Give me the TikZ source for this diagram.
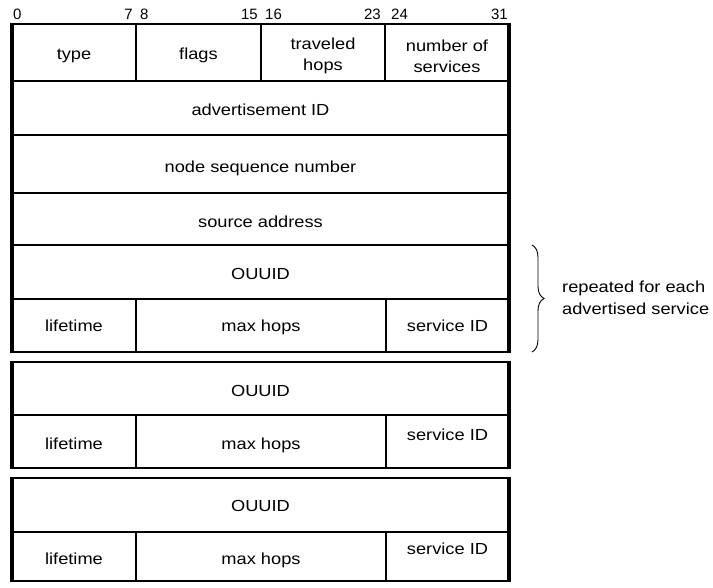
\documentclass[tikz,border=0pt]{standalone}
\usepackage{fontspec}
\setmainfont{Liberation Sans}
\newfontfamily\widesans[FakeStretch=1.14]{Liberation Sans}
\usetikzlibrary{decorations.pathreplacing}
\begin{document}
\begin{tikzpicture}[x=1pt,y=-1pt,
  sidev/.style={line width=3.2pt},
  edgeh/.style={line width=2.2pt},
  inner/.style={line width=1.5pt},
  lbl/.style={font=\widesans\fontsize{16}{18}\selectfont, inner sep=0pt, anchor=base},
  lbltwo/.style={font=\widesans\fontsize{16}{20.7}\selectfont, inner sep=0pt, align=center},
  bit/.style={font=\fontsize{15}{17}\selectfont, inner sep=0pt}]
\useasboundingbox (0,0) rectangle (713,588);
% ---------- block 1 ----------
\foreach \y in {81,135,193,245,299} \draw[inner] (12,\y) -- (509,\y);
\foreach \x in {136,261,385} \draw[inner] (\x,24) -- (\x,81);
\foreach \x in {136,386} \draw[inner] (\x,299) -- (\x,352);
\draw[edgeh] (12,24) -- (509,24);
\draw[edgeh] (12,352) -- (509,352);
\draw[sidev] (12,22.9) -- (12,353.1);
\draw[sidev] (509,22.9) -- (509,353.1);
% ---------- block 2 ----------
\draw[inner] (12,415) -- (509,415);
\foreach \x in {136,386} \draw[inner] (\x,415) -- (\x,468);
\draw[edgeh] (12,362) -- (509,362);
\draw[edgeh] (12,468) -- (509,468);
\draw[sidev] (12,360.9) -- (12,469.1);
\draw[sidev] (509,360.9) -- (509,469.1);
% ---------- block 3 ----------
\draw[inner] (12,532) -- (509,532);
\foreach \x in {136,386} \draw[inner] (\x,532) -- (\x,581);
\draw[edgeh] (12,478) -- (509,478);
\draw[edgeh] (12,581) -- (509,581);
\draw[sidev] (12,476.9) -- (12,582.1);
\draw[sidev] (509,476.9) -- (509,582.1);
% ---------- bit numbers ----------
\node[bit, anchor=base west] (b0) at (13,20) {0};
\node[bit, anchor=base east] (b7) at (133,20) {7};
\node[bit, anchor=base west] (b8) at (140,20) {8};
\node[bit, anchor=base east] (b15) at (258,20) {15};
\node[bit, anchor=base west] (b16) at (265,20) {16};
\node[bit, anchor=base east] (b23) at (381,20) {23};
\node[bit, anchor=base west] (b24) at (391,20) {24};
\node[bit, anchor=base east] (b31) at (508,20) {31};
% ---------- field labels ----------
\node[lbl] (type) at (74,59.5) {type};
\node[lbl] (flags) at (198.5,59.5) {flags};
\node[lbltwo] (trav) at (323,56) {traveled\\hops};
\node[lbltwo] (nserv) at (447,56) {number of\\services};
\node[lbl] (advid) at (260.5,115.7) {advertisement ID};
\node[lbl] (nsn) at (260.5,172.3) {node sequence number};
\node[lbl] (src) at (260.5,227.7) {source address};
\node[lbl] (ouuid1) at (260.5,279.5) {OUUID};
\node[lbl] (life1) at (74,331.7) {lifetime};
\node[lbl] (max1) at (261,331.7) {max hops};
\node[lbl] (sid1) at (447.5,331.7) {service ID};
\node[lbl] (ouuid2) at (260.5,396) {OUUID};
\node[lbl] (life2) at (74,449.3) {lifetime};
\node[lbl] (max2) at (261,449.3) {max hops};
\node[lbl] (sid2) at (447.5,440) {service ID};
\node[lbl] (ouuid3) at (260.5,511.7) {OUUID};
\node[lbl] (life3) at (74,564) {lifetime};
\node[lbl] (max3) at (261,564) {max hops};
\node[lbl] (sid3) at (447.5,554.7) {service ID};
% ---------- brace ----------
\coordinate (btop) at (532,245);
\coordinate (bbot) at (532,352);
\draw[decorate, decoration={brace, amplitude=12pt}, line width=0.9pt] (btop) -- (bbot);
\node[anchor=west, align=left, font=\widesans\fontsize{16}{22}\selectfont, inner sep=0pt] (rep) at (562,297.5) {repeated for each\\advertised service};
\end{tikzpicture}
\end{document}
